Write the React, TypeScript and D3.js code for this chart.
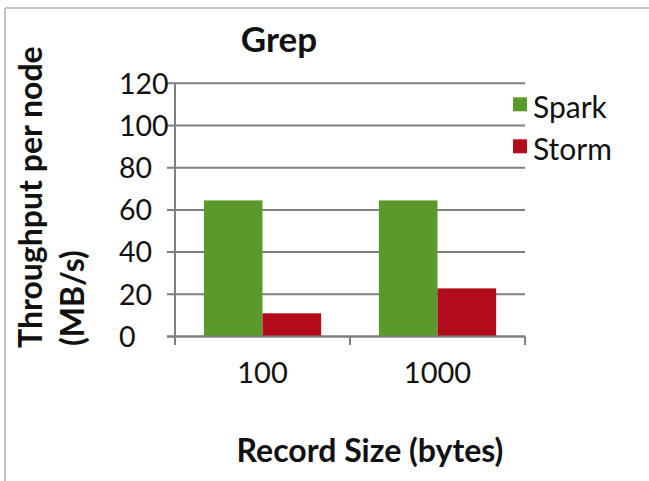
import React from "react";
import * as d3 from "d3";

const categories = ["100", "1000"];
const seriesNames = ["Spark", "Storm"];
const sparkValues = [64.5, 64.5];
const stormValues = [11, 22.8];
const yTicks = [0, 20, 40, 60, 80, 100, 120];
const colors = ["#5a9a2c", "#b20c1c"];

const W = 649;
const H = 481;
const FONT = "Lato, 'Open Sans', sans-serif";

export default function App() {
  const x = d3.scaleBand<string>().domain(categories).range([175, 525]).paddingInner(0.33).paddingOuter(0.165);
  const xs = d3.scaleBand<string>().domain(seriesNames).range([0, x.bandwidth()]).padding(0);
  const y = d3.scaleLinear().domain([0, 120]).range([336.5, 83.3]);
  const series = [sparkValues, stormValues];
  const gridColor = "#7f7f7f";

  return (
    <div style={{ position: "absolute", left: 0, top: 0 }}>
      <svg width={W} height={H} style={{ display: "block", background: "#fff" }}>
        <rect x={0} y={0} width={W} height={H} fill="#fff" />
        {/* frame */}
        <line x1={5} y1={8} x2={W} y2={8} stroke="#c4c4c4" strokeWidth={2} />
        <line x1={5} y1={8} x2={5} y2={H} stroke="#c4c4c4" strokeWidth={2} />

        {/* gridlines + y ticks */}
        {yTicks.map((t) => (
          <line key={"g" + t} x1={167} x2={525} y1={y(t)} y2={y(t)} stroke={gridColor} strokeWidth={2} />
        ))}
        {yTicks.map((t) => (
          <text key={"l" + t} x={119} y={y(t)} dy="0.36em" fontFamily={FONT} fontSize={28.5} fill="#111" textAnchor="start">
            {t}
          </text>
        ))}

        {/* bars */}
        {categories.map((c, i) => (
          <g key={c}>
            {seriesNames.map((s, j) => (
              <rect
                key={s}
                x={(x(c) as number) + (xs(s) as number)}
                y={y(series[j][i])}
                width={xs.bandwidth()}
                height={y(0) - y(series[j][i])}
                fill={colors[j]}
              />
            ))}
          </g>
        ))}

        {/* axes */}
        <line x1={175} x2={175} y1={y(120)} y2={345} stroke={gridColor} strokeWidth={2} />
        <line x1={167} x2={525} y1={y(0)} y2={y(0)} stroke={gridColor} strokeWidth={2} />
        {[...categories.map((c) => (x(c) as number) - x.step() * 0.165), 525].map((px, i) => (
          <line key={"xt" + i} x1={px} x2={px} y1={y(0)} y2={345} stroke={gridColor} strokeWidth={2} />
        ))}
        {categories.map((c) => (
          <text key={"xl" + c} x={(x(c) as number) + x.bandwidth() / 2} y={383} fontFamily={FONT} fontSize={29} fill="#111" textAnchor="middle">
            {c}
          </text>
        ))}

        {/* title */}
        <text x={279} y={52} fontFamily={FONT} fontSize={35} fontWeight="bold" fill="#111" textAnchor="middle">
          Grep
        </text>

        {/* axis titles */}
        <text x={370} y={462} fontFamily={FONT} fontSize={32} fontWeight="bold" fill="#111" textAnchor="middle">
          Record Size (bytes)
        </text>
        <text transform="translate(42,348) rotate(-90)" fontFamily={FONT} fontSize={32} fontWeight="bold" fill="#111" textAnchor="start">
          Throughput per node
        </text>
        <text transform="translate(84,346) rotate(-90)" fontFamily={FONT} fontSize={32} fontWeight="bold" fill="#111" textAnchor="start">
          (MB/s)
        </text>

        {/* legend */}
        {seriesNames.map((s, j) => (
          <g key={"lg" + s} transform={`translate(513, ${118.3 + j * 42})`}>
            <rect x={0} y={-21} width={14} height={14} fill={colors[j]} />
            <text x={20} y={0} fontFamily={FONT} fontSize={30} fill="#111">
              {s}
            </text>
          </g>
        ))}
      </svg>
    </div>
  );
}
